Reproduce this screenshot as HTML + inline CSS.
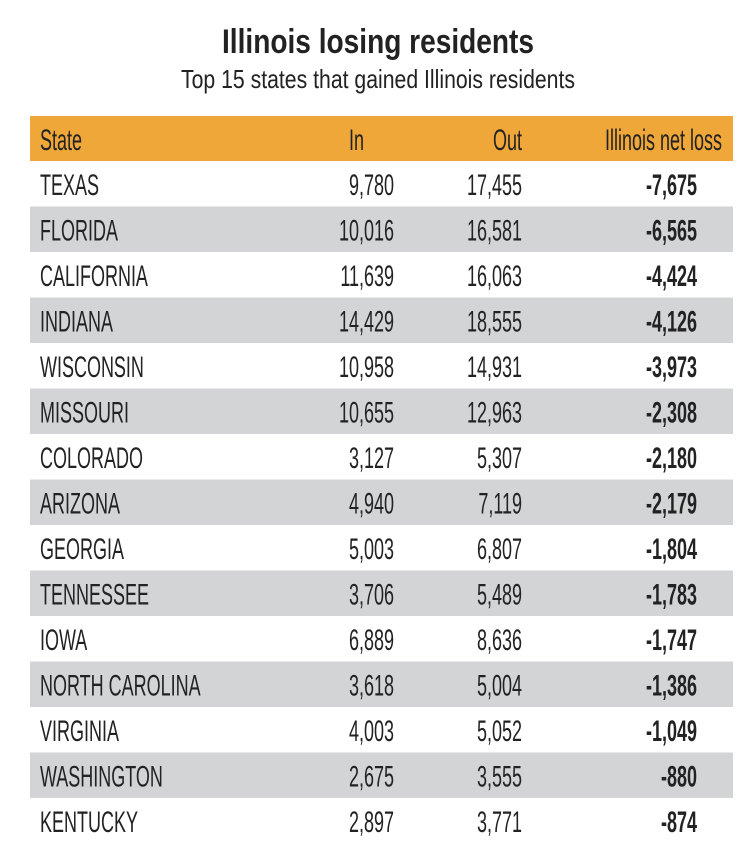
<!DOCTYPE html>
<html><head><meta charset="utf-8"><style>
html,body{margin:0;padding:0;background:#fff;}
svg{display:block;font-family:"Liberation Sans",sans-serif;}
</style></head><body>
<svg id="chart" width="750" height="864" viewBox="0 0 750 864" xmlns="http://www.w3.org/2000/svg">
<text x="378" y="53" text-anchor="middle" font-size="34" font-weight="bold" fill="#222" textLength="312" lengthAdjust="spacingAndGlyphs">Illinois losing residents</text>
<text x="378" y="88" text-anchor="middle" font-size="26" fill="#222" textLength="394" lengthAdjust="spacingAndGlyphs">Top 15 states that gained Illinois residents</text>
<rect x="30" y="116" width="703" height="45" fill="#F0A73A"/>
<g id="hdr"></g>
<g id="rows"></g>
</svg>
<script>
const states=["TEXAS","FLORIDA","CALIFORNIA","INDIANA","WISCONSIN","MISSOURI","COLORADO","ARIZONA","GEORGIA","TENNESSEE","IOWA","NORTH CAROLINA","VIRGINIA","WASHINGTON","KENTUCKY"];
const inVals=[9780,10016,11639,14429,10958,10655,3127,4940,5003,3706,6889,3618,4003,2675,2897];
const outVals=[17455,16581,16063,18555,14931,12963,5307,7119,6807,5489,8636,5004,5052,3555,3771];
const netVals=[-7675,-6565,-4424,-4126,-3973,-2308,-2180,-2179,-1804,-1783,-1747,-1386,-1049,-880,-874];
const headers=["State","In","Out","Illinois net loss"];
const NS="http://www.w3.org/2000/svg";
const fmt=v=>(v<0?"-":"")+Math.abs(v).toLocaleString("en-US");
function txt(parent,x,y,s,anchor,bold,name){
  const t=document.createElementNS(NS,"text");
  t.setAttribute("transform","translate("+x+","+y+") scale(0.6,1)");
  t.setAttribute("text-anchor",anchor);
  t.setAttribute("font-size","30");
  t.setAttribute("fill","#222");
  if(bold)t.setAttribute("font-weight","bold");
  t.textContent=s;
  
  
  parent.appendChild(t);
}
const hdr=document.getElementById("hdr");
txt(hdr,40,150,headers[0],"start",false,"header-state");
txt(hdr,364,150,headers[1],"end",false,"header-in");
txt(hdr,522,150,headers[2],"end",false,"header-out");
txt(hdr,722,150,headers[3],"end",false,"header-net-loss");
const rows=document.getElementById("rows");
const top0=161,rh=45.5;
states.forEach((s,i)=>{
  const y=top0+i*rh;
  const g=document.createElementNS(NS,"g");
  
  
  if(i%2===1){
    const r=document.createElementNS(NS,"rect");
    r.setAttribute("x",30);r.setAttribute("y",y);r.setAttribute("width",703);r.setAttribute("height",rh);
    r.setAttribute("fill","#D3D4D6");
    
    
    g.appendChild(r);
  }
  const by=y+34;
  txt(g,40,by,s,"start",false,"state-name");
  txt(g,394,by,fmt(inVals[i]),"end",false,"in-value");
  txt(g,522,by,fmt(outVals[i]),"end",false,"out-value");
  txt(g,697,by,fmt(netVals[i]),"end",true,"net-loss-value");
  rows.appendChild(g);
});
</script>
</body></html>
